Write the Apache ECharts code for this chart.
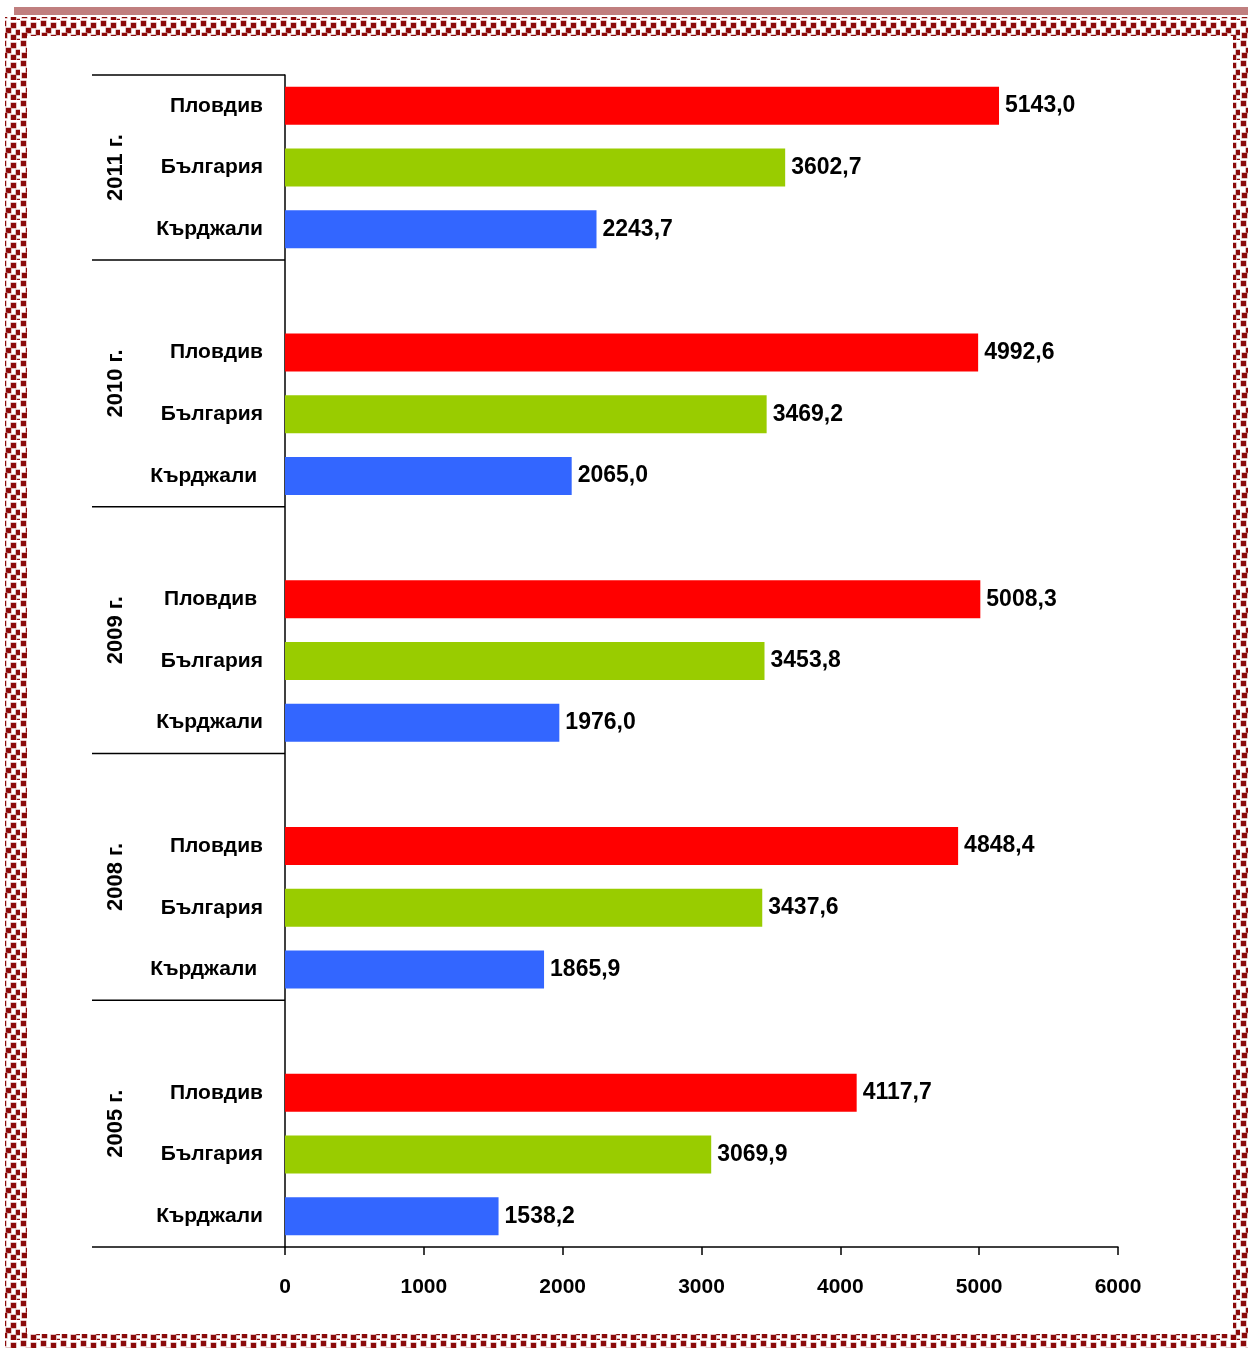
<!DOCTYPE html>
<html>
<head>
<meta charset="utf-8">
<script src="https://cdn.jsdelivr.net/npm/echarts@6/dist/echarts.min.js"></script>
<style>
html,body{margin:0;padding:0;background:#fff;}
#chart{width:1248px;height:1348px;}
</style>
</head>
<body>
<div id="chart"></div>
<script>
// ---- data ----
const years = ['2011 г.', '2010 г.', '2009 г.', '2008 г.', '2005 г.'];
const regions = ['Пловдив', 'България', 'Кърджали'];
const plovdiv   = [5143.0, 4992.6, 5008.3, 4848.4, 4117.7];
const bulgaria  = [3602.7, 3469.2, 3453.8, 3437.6, 3069.9];
const kardzhali = [2243.7, 2065.0, 1976.0, 1865.9, 1538.2];
// row labels as they appear (some carry a trailing space in the original)
const rowLabels = [
  ['Пловдив', 'България', 'Кърджали'],
  ['Пловдив', 'България', 'Кърджали '],
  ['Пловдив ', 'България', 'Кърджали'],
  ['Пловдив', 'България', 'Кърджали '],
  ['Пловдив', 'България', 'Кърджали']
];
const xTicks = [0, 1000, 2000, 3000, 4000, 5000, 6000];
const colors = ['#ff0000', '#99cc00', '#3366ff'];

// ---- build slots ----
const seriesVals = [plovdiv, bulgaria, kardzhali];
const slotKeys = [], slotLabels = [], slotData = [];
const groupRanges = [];
years.forEach((y, g) => {
  const start = slotKeys.length;
  if (g > 0) { slotKeys.push('gap' + g); slotLabels.push(''); slotData.push('-'); }
  regions.forEach((r, k) => {
    slotKeys.push('r' + g + '_' + k);
    slotLabels.push(rowLabels[g][k]);
    slotData.push({ value: seriesVals[k][g], itemStyle: { color: colors[k] } });
  });
  groupRanges.push([start, slotKeys.length - 1]);
});

const FONT = '"Liberation Sans", Arial, sans-serif';

// pattern tile for the frame
function makeTile() {
  const c = document.createElement('canvas');
  c.width = 20; c.height = 20;
  const ctx = c.getContext('2d');
  ctx.fillStyle = '#ffffff';
  ctx.fillRect(0, 0, 20, 20);
  const pts = [[1,1],[11,3],[6,8],[16,10],[2,13],[11,15],[17,19]];
  pts.forEach(([x, y]) => {
    ctx.fillStyle = '#c98a8a';
    ctx.fillRect(x - 0.5, y - 0.5, 6, 6);
    ctx.fillStyle = '#8b0a0a';
    ctx.fillRect(x, y, 5, 5);
  });
  return c;
}

const chart = echarts.init(document.getElementById('chart'));
const option = {
  animation: false,
  backgroundColor: '#ffffff',
  grid: { left: 285, right: 130, top: 75, bottom: 101, containLabel: false },
  xAxis: {
    type: 'value', min: 0, max: 6000, interval: 1000,
    axisLine: { show: true, lineStyle: { color: '#000', width: 1.5 } },
    axisTick: { show: true, inside: false, length: 8, lineStyle: { color: '#000', width: 1.5 } },
    splitLine: { show: false },
    axisLabel: {
      margin: 30, color: '#000', fontFamily: FONT, fontWeight: 'bold', fontSize: 21,
      formatter: v => xTicks.indexOf(v) >= 0 ? String(v) : ''
    }
  },
  yAxis: {
    type: 'category', inverse: true, data: slotKeys,
    axisLine: { show: true, onZero: false, lineStyle: { color: '#000', width: 1.5 } },
    axisTick: { show: false },
    splitLine: { show: false },
    axisLabel: {
      margin: 22, color: '#000', fontFamily: FONT, fontWeight: 'bold', fontSize: 21,
      formatter: (v, i) => slotLabels[i]
    }
  },
  series: [{
    type: 'bar', data: slotData, barWidth: 38,
    label: {
      show: true, position: 'right', distance: 6, color: '#000',
      fontFamily: FONT, fontWeight: 'bold', fontSize: 23,
      formatter: p => p.value.toFixed(1).replace('.', ',')
    }
  }]
};
chart.setOption(option);

// ---- decorations computed from the axes ----
const lineLeft = 92;
const axisX = chart.convertToPixel({ xAxisIndex: 0 }, 0);
const c0 = chart.convertToPixel({ yAxisIndex: 0 }, 0);
const c1 = chart.convertToPixel({ yAxisIndex: 0 }, 1);
const band = c1 - c0;
const graphics = [];
// frame
graphics.push({ type: 'rect', z: -10, silent: true, shape: { x: 14, y: 7, width: 1234, height: 8 }, style: { fill: '#c07f7f' } });
graphics.push({ type: 'rect', z: -10, silent: true, shape: { x: 5, y: 17, width: 1243, height: 1331 }, style: { fill: { image: makeTile(), repeat: 'repeat' } } });
graphics.push({ type: 'rect', z: -9, silent: true, shape: { x: 27, y: 36, width: 1206, height: 1298 }, style: { fill: '#ffffff' } });
// top line
graphics.push({ type: 'line', z: 5, silent: true, shape: { x1: lineLeft, y1: c0 - band / 2, x2: axisX, y2: c0 - band / 2 }, style: { stroke: '#000', lineWidth: 1.5 } });
groupRanges.forEach((rg, g) => {
  const yEnd = chart.convertToPixel({ yAxisIndex: 0 }, rg[1]) + band / 2;
  graphics.push({ type: 'line', z: 5, silent: true, shape: { x1: lineLeft, y1: yEnd, x2: axisX, y2: yEnd }, style: { stroke: '#000', lineWidth: 1.5 } });
  const yStart = chart.convertToPixel({ yAxisIndex: 0 }, rg[0]) - band / 2;
  const cy = (yStart + yEnd) / 2;
  graphics.push({
    type: 'text', z: 5, silent: true, x: 116, y: cy, rotation: Math.PI / 2,
    style: { text: years[g], fill: '#000', font: 'bold 22px ' + FONT, align: 'center', verticalAlign: 'middle' }
  });
});
chart.setOption({ graphic: graphics });
</script>
</body>
</html>
